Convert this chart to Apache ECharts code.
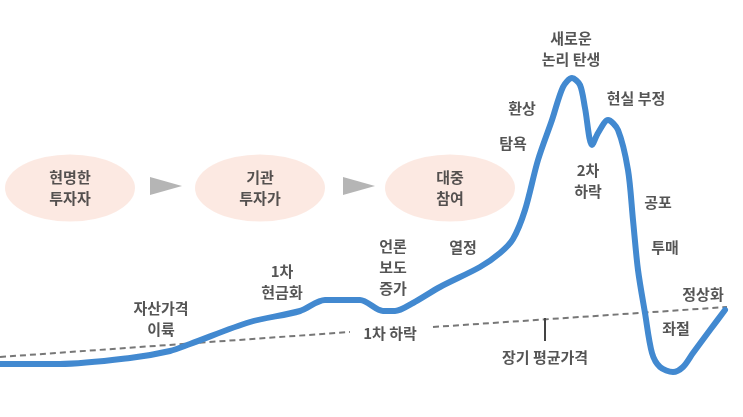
<!DOCTYPE html>
<html>
<head>
<meta charset="utf-8">
<script src="https://cdn.jsdelivr.net/npm/echarts@6/dist/echarts.min.js"></script>
<style>
  html, body { margin: 0; padding: 0; background: #fff; }
  #chart { width: 743px; height: 417px; }
</style>
</head>
<body>
<div id="chart"></div>
<script>
// 버블 곡선 (시간, 가격)
var curveTime = [0, 60, 130, 170, 190, 250, 300, 325, 360, 383, 395, 413, 440, 480, 500, 513, 525, 538, 552, 563, 572, 580, 585, 592, 598, 608, 618, 628, 633, 638, 645, 652, 660, 673, 683, 693, 710, 725];
var curvePrice = [53, 53, 59, 66, 73, 95, 106, 117, 117, 106, 106, 114, 130, 150, 164, 178, 207, 257, 297, 330, 339, 332, 309, 272, 284, 297, 287, 247, 197, 147, 104, 64, 50, 45, 50, 64, 87, 107];

// 장기 평균가격 (점선, null = 끊김)
var trendTime = [0, 350, null, 433, 727];
var trendPrice = [60, 85, null, 90, 110];

// 장기 평균가격 표시 눈금
var tickTime = [545, 545];
var tickPrice = [99, 76];

// 단계 (타원)
var stageNames = ['현명한\n투자자', '기관\n투자가', '대중\n참여'];
var stageTime = [70, 260, 450];
var stagePrice = [229, 229, 229];

// 화살표
var arrowTime = [166, 359];
var arrowPrice = [231, 231];

// 주석
var noteTexts = ['자산가격\n이륙', '1차\n현금화', '언론\n보도\n증가', '1차 하락', '열정', '장기 평균가격',
  '투매', '정상화', '좌절', '공포', '2차\n하락', '현실 부정', '새로운\n논리 탄생', '환상', '탐욕'];
var noteTime = [161, 282, 393, 390, 463, 545, 665, 703, 676, 658, 588, 636, 571, 522, 513];
var notePrice = [98, 135, 150, 84, 170, 60, 170, 123, 89, 215, 236, 319, 368, 309, 274];

function zip(xs, ys) {
  return xs.map(function (x, i) { return x === null ? null : [x, ys[i]]; });
}

var chart = echarts.init(document.getElementById('chart'));
var textStyle = { color: '#2a2a2a', fontSize: 15, fontWeight: 'bold', lineHeight: 21, fontFamily: 'Noto Sans CJK KR' };

chart.setOption({
  animation: false,
  grid: { left: 0, right: 0, top: 0, bottom: 0 },
  xAxis: { type: 'value', min: 0, max: 743, show: false },
  yAxis: { type: 'value', min: 0, max: 417, show: false },
  series: [
    {
      type: 'scatter',
      symbol: 'circle',
      symbolSize: [130, 67],
      itemStyle: { color: '#fbe4db' },
      data: zip(stageTime, stagePrice).map(function (p, i) {
        return { value: p, name: stageNames[i] };
      }),
      label: Object.assign({ show: true, position: 'inside', formatter: '{b}' }, textStyle),
      z: 1
    },
    {
      type: 'scatter',
      symbol: 'triangle',
      symbolSize: [18, 32],
      symbolRotate: -90,
      itemStyle: { color: '#a3a3a3' },
      data: zip(arrowTime, arrowPrice),
      z: 1
    },
    {
      type: 'line',
      data: zip(trendTime, trendPrice),
      showSymbol: false,
      connectNulls: false,
      lineStyle: { color: '#777', width: 2, type: [6, 4] },
      z: 2
    },
    {
      type: 'line',
      data: zip(tickTime, tickPrice),
      showSymbol: false,
      lineStyle: { color: '#444', width: 2 },
      z: 2
    },
    {
      type: 'line',
      data: zip(curveTime, curvePrice),
      smooth: 0.3,
      showSymbol: false,
      lineStyle: { color: '#4289d0', width: 6, cap: 'round', join: 'round' },
      z: 3
    },
    {
      type: 'scatter',
      symbolSize: 0,
      data: zip(noteTime, notePrice).map(function (p, i) {
        return { value: p, name: noteTexts[i] };
      }),
      label: Object.assign({ show: true, position: 'inside', formatter: '{b}' }, textStyle),
      z: 4
    }
  ]
});
</script>
</body>
</html>
